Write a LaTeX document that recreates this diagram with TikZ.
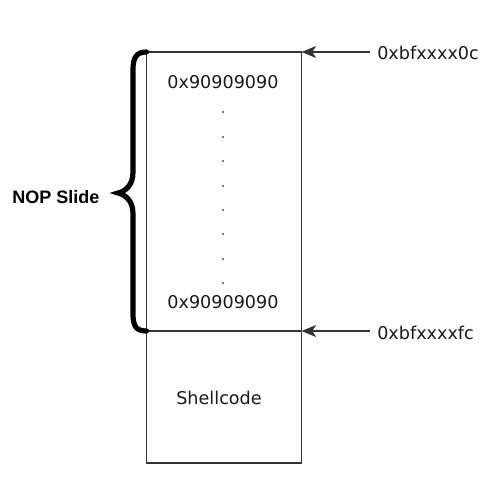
\documentclass[tikz,border=0pt]{standalone}
\usepackage{fontspec}
\setmainfont{DejaVu Sans}
\newfontfamily\nopfont{Liberation Sans}
\usetikzlibrary{arrows.meta}
\begin{document}
\begin{tikzpicture}[x=0.75pt,y=-0.75pt,
  mem/.style={draw=black!80,line width=1.2pt,inner sep=0pt,outer sep=0pt,minimum width=155*0.75pt},
  txt/.style={font=\fontsize{13.2}{15}\selectfont,text=black!90,inner sep=0pt},
  ptr/.style={draw=black!80,line width=0.9pt,-{Stealth[length=11pt,width=9pt,inset=3pt]}},
  dotstyle/.style={circle,fill=black!70,inner sep=0pt,minimum size=1.6pt}]
\useasboundingbox (0,0) rectangle (482,500);
\node[mem,minimum height=279*0.75pt,anchor=north west] (slide) at (146.5,52) {};
\node[mem,minimum height=132*0.75pt,anchor=north west] (shell) at (146.5,331) {};
\node[txt] (v1) at (223,82) {0x90909090};
\node[txt] (v2) at (223,302) {0x90909090};
\node[txt] (sc) at (219,398) {Shellcode};
\foreach \i/\y in {1/112,2/137,3/161,4/186,5/210,6/234,7/259,8/283}
  \node[dotstyle] (d\i) at (223,\y) {};
\node[txt,anchor=west] (a1) at (377,53) {0xbfxxxx0c};
\node[txt,anchor=west] (a2) at (377,333) {0xbfxxxxfc};
\coordinate (a1s) at (370,52);
\coordinate (a2s) at (370,331);
\draw[ptr] (a1s) -- (slide.north east);
\draw[ptr] (a2s) -- (slide.south east);
\node[font=\nopfont\bfseries\fontsize{13.5}{16}\selectfont,inner sep=0pt] (nop) at (56,197) {NOP Slide};
\draw[line width=3.9pt,line cap=round,black]
  (slide.north west) .. controls (136,52) and (133,58) .. (133,70) -- (133,172)
  .. controls (133,185) and (126,191) .. (118,193)
  .. controls (126,195) and (133,201) .. (133,214) -- (133,314)
  .. controls (133,326) and (136,331) .. (slide.south west);
\end{tikzpicture}
\end{document}
